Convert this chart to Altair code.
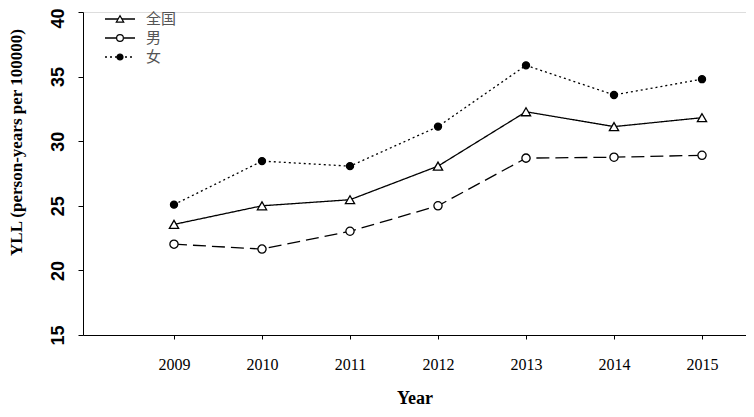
import altair as alt
import pandas as pd

years = [2009, 2010, 2011, 2012, 2013, 2014, 2015]
national = [23.56, 25.0, 25.47, 28.07, 32.28, 31.13, 31.82]
male = [22.03, 21.65, 23.03, 25.0, 28.69, 28.76, 28.91]
female = [25.09, 28.46, 28.07, 31.13, 35.87, 33.58, 34.8]
series_names = ["全国", "男", "女"]

rows = []
for name, vals in zip(series_names, [national, male, female]):
    for y, v in zip(years, vals):
        rows.append({"year": y, "value": v, "series": name})
df = pd.DataFrame(rows)
leg_df = pd.DataFrame({"series": series_names})

dash_scale = alt.Scale(domain=series_names, range=[[1, 0], [13, 6], [2, 3]])
shape_scale = alt.Scale(domain=series_names, range=["triangle-up", "circle", "circle"])
fill_scale = alt.Scale(domain=series_names, range=["white", "white", "black"])
size_scale = alt.Scale(domain=series_names, range=[85, 50, 18])
leg_size_scale = alt.Scale(domain=series_names, range=[55, 36, 14])

xenc = alt.X("year:Q",
             scale=alt.Scale(domain=[2007.966, 2015.5], nice=False, zero=False),
             axis=alt.Axis(values=years, format="d", title="Year", grid=False,
                           labelFont="Liberation Serif", labelFontSize=16, labelColor="black",
                           labelPadding=17, tickSize=4, tickColor="black", domainColor="black",
                           titleFont="Liberation Serif", titleFontSize=18, titleFontWeight="bold",
                           titlePadding=17, titleColor="black"))
yenc = alt.Y("value:Q",
             scale=alt.Scale(domain=[15, 40], nice=False, zero=False),
             axis=alt.Axis(values=[15, 20, 25, 30, 35, 40], grid=False,
                           title="YLL (person-years per 100000)",
                           labelFont="Liberation Sans", labelFontSize=18, labelFontWeight="bold",
                           labelColor="black", labelAngle=270, labelAlign="center",
                           labelBaseline="bottom", labelPadding=11, tickSize=5,
                           labelOffset=alt.condition("datum.value == 40", alt.value(6), alt.value(0)),
                           tickColor="black", domainColor="black",
                           titleFont="Liberation Serif", titleFontSize=17, titleFontWeight="bold",
                           titleColor="black", titleAngle=270, titleAlign="center",
                           titleBaseline="middle", titleX=-67, titleY=130))

lines = alt.Chart(df).mark_line(color="black", strokeWidth=1.3).encode(
    x=xenc, y=yenc,
    strokeDash=alt.StrokeDash("series:N", scale=dash_scale, legend=None),
)
points = alt.Chart(df).mark_point(color="black", strokeWidth=1.3, opacity=1).encode(
    x=xenc, y=yenc,
    shape=alt.Shape("series:N", scale=shape_scale, legend=None),
    fill=alt.Fill("series:N", scale=fill_scale, legend=None),
    size=alt.Size("series:N", scale=size_scale, legend=None),
)
main = alt.layer(lines, points)

leg_y = alt.Y("series:N", axis=None,
              scale=alt.Scale(type="point", domain=series_names, range=[7, 45], padding=0))
leg_rule = alt.Chart(leg_df).mark_rule(color="black", strokeWidth=1.3).encode(
    x=alt.value(22), x2=alt.value(52), y=leg_y,
    strokeDash=alt.StrokeDash("series:N", scale=dash_scale, legend=None),
)
leg_pt = alt.Chart(leg_df).mark_point(color="black", strokeWidth=1.2, opacity=1).encode(
    x=alt.value(37), y=leg_y,
    shape=alt.Shape("series:N", scale=shape_scale, legend=None),
    fill=alt.Fill("series:N", scale=fill_scale, legend=None),
    size=alt.Size("series:N", scale=leg_size_scale, legend=None),
)
leg_txt = alt.Chart(leg_df).mark_text(
    align="left", baseline="middle", font="Noto Sans CJK SC", fontSize=15, color="#555555"
).encode(x=alt.value(63), y=leg_y, text="series:N")
legend = alt.layer(leg_rule, leg_pt, leg_txt).resolve_scale(size="independent")

chart = alt.layer(main, legend).resolve_scale(y="independent", size="independent").properties(
    width=663, height=323,
    padding={"left": 75, "top": 4, "right": 0, "bottom": 74},
    autosize=alt.AutoSizeParams(type="none"),
).configure_view(stroke=None).configure(background="white")

chart.save("out.html", embed_options={"renderer": "svg", "actions": False})
